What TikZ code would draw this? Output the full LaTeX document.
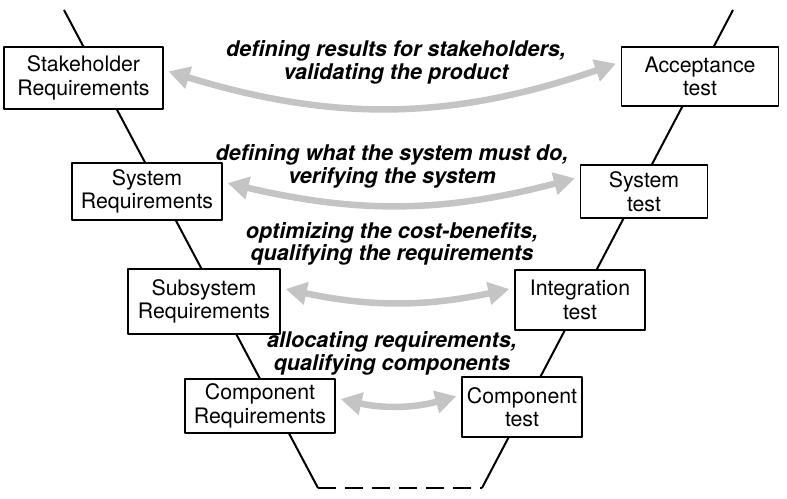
\documentclass[tikz,border=0pt]{standalone}
\usepackage{fontspec}
\setmainfont{TeX Gyre Heros}
\usetikzlibrary{arrows.meta}
\definecolor{arrowgray}{RGB}{196,196,196}
\begin{document}
\begin{tikzpicture}[x=1pt, y=1pt, line join=round,
  box/.style={draw, line width=1.6pt, fill=white, align=center, inner sep=0pt, font=\fontsize{21.3}{23.5}\selectfont},
  phase/.style={align=center, font=\fontsize{21.6}{22.5}\selectfont\bfseries\itshape},
  garrow/.style={draw=arrowgray, line width=6.5pt, {Triangle[length=21pt,width=22pt]}-{Triangle[length=21pt,width=22pt]}, shorten <=5pt, shorten >=5pt}]
\useasboundingbox (0,0) rectangle (787,498);
\coordinate(vl) at (64,488);
\coordinate(vbl) at (318,10);
\coordinate(vbr) at (482,10);
\coordinate(vr) at (733,488);
\draw[line width=2pt] (vl) -- (vbl);
\draw[line width=2pt, dash pattern=on 18pt off 9pt] (vbl) -- (vbr);
\draw[line width=2pt] (vbr) -- (vr);

\node[box, minimum width=159, minimum height=62](sr) at (83.5,420) {Stakeholder\\Requirements};
\node[box, minimum width=157, minimum height=59](at) at (700,421.5) {Acceptance\\test};
\node[box, minimum width=150, minimum height=57](sysr) at (147,306.5) {System\\Requirements};
\node[box, minimum width=127, minimum height=53](syst) at (644,306.5) {System\\test};
\node[box, minimum width=152, minimum height=65](subr) at (204,196.5) {Subsystem\\Requirements};
\node[box, minimum width=130, minimum height=60](intt) at (580,198) {Integration\\test};
\node[box, minimum width=150, minimum height=54](compr) at (260,92) {Component\\Requirements};
\node[box, minimum width=120, minimum height=60](compt) at (522,91) {Component\\test};

\node[phase](p1) at (396,435.5) {defining results for stakeholders,\\validating the product};
\node[phase](p2) at (392,331.5) {defining what the system must do,\\verifying the system};
\node[phase](p3) at (392,254) {optimizing the cost-benefits,\\qualifying the requirements};
\node[phase](p4) at (392,144.5) {allocating requirements,\\qualifying components};

\path ([yshift=8pt]sr.east) edge[garrow, bend right=18] ([yshift=14.5pt]at.west);
\path ([yshift=9.5pt]sysr.east) edge[garrow, bend right=14] ([yshift=14.5pt]syst.west);
\path ([yshift=13.5pt]subr.east) edge[garrow, bend right=12] ([yshift=12pt]intt.west);
\path ([yshift=8pt]compr.east) edge[garrow, bend right=14] ([yshift=12pt]compt.west);
\end{tikzpicture}
\end{document}
